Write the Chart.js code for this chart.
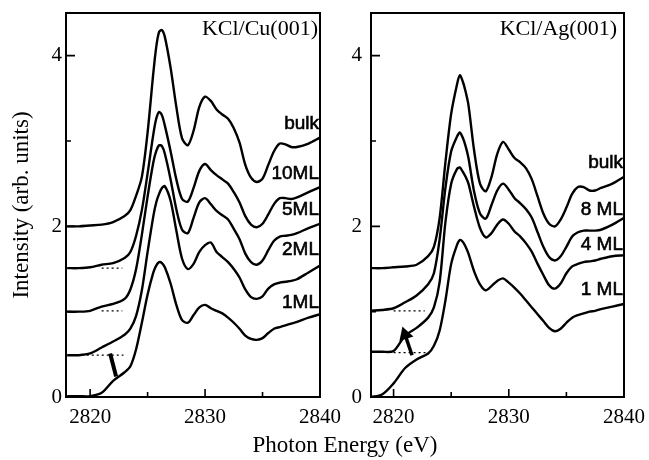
<!DOCTYPE html>
<html>
<head>
<meta charset="utf-8">
<script src="https://cdn.jsdelivr.net/npm/chart.js@4.4.1/dist/chart.umd.min.js"></script>
<style>
  body { margin: 0; background: #fff; }
  #wrap { position: relative; width: 649px; height: 460px; overflow: hidden; }
  canvas { position: absolute; top: 0; }
  #xTitle {
    position: absolute; left: 245px; width: 200px; top: 431px;
    text-align: center; font: 23px 'Liberation Serif', serif; line-height: 28px; color: #000;
  }
</style>
</head>
<body>
<div id="wrap">
  <canvas id="cuChart" width="360" height="460" style="left:0"></canvas>
  <canvas id="agChart" width="319" height="460" style="left:330px"></canvas>
  <div id="xTitle">Photon Energy (eV)</div>
</div>
<script>
// photon energy grid (eV), shared by all spectra
const energy = [2818, 2819, 2820, 2821, 2822, 2823, 2823.5, 2824, 2824.5, 2825,
  2825.5, 2825.75, 2826, 2826.25, 2826.5, 2827, 2827.5, 2828, 2828.5, 2829,
  2829.5, 2830, 2830.5, 2831, 2831.5, 2832, 2832.5, 2833, 2833.5, 2834,
  2834.5, 2835, 2835.5, 2836, 2836.5, 2837, 2837.5, 2838, 2839, 2840];

// KCl/Cu(001) spectra (offset)
const cuBulk = [2.00, 2.00, 2.01, 2.02, 2.05, 2.12, 2.19, 2.36, 2.58, 3.10,
  3.80, 4.10, 4.28, 4.30, 4.22, 3.86, 3.40, 3.03, 2.95, 3.12,
  3.40, 3.52, 3.47, 3.37, 3.31, 3.26, 3.15, 2.98, 2.72, 2.57,
  2.52, 2.56, 2.72, 2.88, 2.97, 2.96, 2.93, 2.93, 2.97, 3.04];
const cu10ML = [1.51, 1.51, 1.52, 1.55, 1.57, 1.63, 1.70, 1.89, 2.19, 2.62,
  3.08, 3.26, 3.34, 3.30, 3.18, 2.88, 2.55, 2.32, 2.29, 2.45,
  2.65, 2.73, 2.66, 2.60, 2.55, 2.50, 2.40, 2.28, 2.12, 2.02,
  1.99, 2.03, 2.14, 2.26, 2.33, 2.33, 2.32, 2.34, 2.40, 2.46];
const cu5ML = [1.00, 1.00, 1.01, 1.06, 1.09, 1.15, 1.26, 1.50, 1.90, 2.35,
  2.75, 2.88, 2.95, 2.94, 2.85, 2.55, 2.20, 1.96, 1.92, 2.10,
  2.28, 2.33, 2.26, 2.18, 2.13, 2.08, 1.97, 1.85, 1.68, 1.58,
  1.55, 1.60, 1.72, 1.83, 1.88, 1.89, 1.90, 1.92, 1.98, 2.03];
const cu2ML = [0.49, 0.49, 0.51, 0.58, 0.65, 0.73, 0.80, 0.95, 1.25, 1.70,
  2.12, 2.28, 2.38, 2.45, 2.47, 2.30, 1.95, 1.62, 1.50, 1.56,
  1.70, 1.78, 1.81, 1.70, 1.64, 1.58, 1.50, 1.40, 1.26, 1.17,
  1.15, 1.18, 1.27, 1.32, 1.34, 1.35, 1.36, 1.38, 1.46, 1.54];
const cu1ML = [0.01, 0.01, 0.01, 0.05, 0.19, 0.29, 0.36, 0.56, 0.87, 1.20,
  1.46, 1.54, 1.58, 1.57, 1.52, 1.33, 1.08, 0.90, 0.87, 0.96,
  1.05, 1.08, 1.04, 1.01, 0.98, 0.93, 0.87, 0.80, 0.72, 0.68,
  0.67, 0.69, 0.75, 0.80, 0.82, 0.84, 0.86, 0.88, 0.93, 0.97];

// KCl/Ag(001) spectra (offset)
const agBulk = [1.51, 1.51, 1.52, 1.53, 1.55, 1.65, 1.76, 2.10, 2.75, 3.32,
  3.66, 3.77, 3.70, 3.58, 3.42, 2.88, 2.50, 2.41, 2.58, 2.85,
  2.99, 2.90, 2.80, 2.75, 2.68, 2.55, 2.35, 2.15, 2.03, 2.00,
  2.08, 2.22, 2.38, 2.46, 2.46, 2.42, 2.42, 2.45, 2.50, 2.58];
const ag8ML = [1.01, 1.02, 1.04, 1.11, 1.19, 1.32, 1.45, 1.85, 2.45, 2.88,
  3.05, 3.10, 3.04, 2.94, 2.80, 2.40, 2.15, 2.09, 2.25, 2.42,
  2.50, 2.43, 2.33, 2.27, 2.20, 2.10, 1.93, 1.76, 1.64, 1.60,
  1.65, 1.76, 1.88, 1.93, 1.95, 1.95, 1.95, 1.96, 2.02, 2.10];
const ag4ML = [0.53, 0.53, 0.54, 0.72, 0.81, 0.93, 1.05, 1.35, 2.05, 2.50,
  2.67, 2.69, 2.64, 2.58, 2.50, 2.22, 1.98, 1.87, 1.92, 2.02,
  2.08, 2.03, 1.94, 1.88, 1.80, 1.70, 1.56, 1.43, 1.31, 1.27,
  1.33, 1.45, 1.53, 1.56, 1.58, 1.59, 1.60, 1.62, 1.65, 1.66];
const ag1ML = [0.00, 0.03, 0.16, 0.34, 0.44, 0.51, 0.60, 0.78, 1.13, 1.56,
  1.78, 1.84, 1.82, 1.76, 1.68, 1.47, 1.32, 1.25, 1.30, 1.36,
  1.39, 1.34, 1.28, 1.21, 1.13, 1.05, 0.97, 0.89, 0.81, 0.77,
  0.80, 0.87, 0.93, 0.96, 0.98, 1.00, 1.01, 1.03, 1.06, 1.09];

// dotted pre-edge baselines and the marker strokes
const cuBaseE = [[2821.0, 2822.8], [2821.0, 2822.8], [2818.4, 2822.9]];
const cuBaseI = [1.51, 1.01, 0.49];
const agBaseE = [[2820.0, 2822.7], [2820.0, 2822.9]];
const agBaseI = [1.01, 0.52];
const cuArrowE = [2821.74, 2822.26];
const cuArrowI = [0.51, 0.24];
const agArrowE = [2821.6, 2821.0];
const agArrowI = [0.49, 0.73];

// ticks and labels
const energyTicks = [2820, 2825, 2830, 2835, 2840];
const intensityTicks = [0, 1, 2, 3, 4];
const cuNames = ['bulk', '10ML', '5ML', '2ML', '1ML'];
const agNames = ['bulk', '8 ML', '4 ML', '1 ML'];

const SERIF = "'Liberation Serif', 'Times New Roman', serif";
const SANS = "'Liberation Sans', Arial, sans-serif";

const pts = (xs, ys) => xs.map((x, i) => ({ x, y: ys[i] }));

function spectrum(ys) {
  return {
    data: pts(energy, ys), borderColor: '#000', borderWidth: 2.4,
    pointRadius: 0, tension: 0.3, fill: false
  };
}
function dotted(xs, yv) {
  return {
    data: pts(xs, [yv, yv]), borderColor: '#000', borderWidth: 1.3,
    borderDash: [2, 3], pointRadius: 0, fill: false
  };
}

const framePlugin = {
  id: 'frame',
  afterDraw(chart, args, opts) {
    const { ctx, chartArea: a, scales: { x, y } } = chart;
    ctx.save();
    ctx.strokeStyle = '#000';
    ctx.lineWidth = 2;
    ctx.strokeRect(a.left, a.top, a.right - a.left, a.bottom - a.top);
    // inward ticks
    ctx.lineWidth = 1.6;
    ctx.beginPath();
    energyTicks.forEach(v => {
      const px = x.getPixelForValue(v);
      const len = v % 10 === 0 ? 8 : 5;
      ctx.moveTo(px, a.bottom);
      ctx.lineTo(px, a.bottom - len);
    });
    intensityTicks.forEach(v => {
      const py = y.getPixelForValue(v);
      const len = v % 2 === 0 ? 9 : 5;
      ctx.moveTo(a.left, py);
      ctx.lineTo(a.left + len, py);
    });
    ctx.stroke();
    // panel title
    ctx.fillStyle = '#000';
    ctx.font = '22px ' + SERIF;
    ctx.textAlign = 'right';
    ctx.textBaseline = 'middle';
    ctx.fillText(opts.title, a.right - opts.titleInset, a.top + 16);
    // series labels (scanned print looks heavy, so give them a thin outline)
    ctx.font = '19px ' + SANS;
    ctx.lineWidth = 0.6;
    opts.names.forEach((n, i) => {
      const py = y.getPixelForValue(opts.nameY[i]);
      ctx.fillText(n, a.right - 1, py);
      ctx.strokeText(n, a.right - 1, py);
    });
    ctx.restore();
  }
};

function buildChart(id, cfg) {
  return new Chart(document.getElementById(id).getContext('2d'), {
    type: 'line',
    data: { datasets: cfg.datasets },
    plugins: [framePlugin],
    options: {
      responsive: false,
      animation: false,
      layout: { padding: { left: 0, top: 13, right: cfg.padRight, bottom: 0 } },
      plugins: {
        legend: { display: false },
        tooltip: { enabled: false },
        frame: cfg.frame
      },
      scales: {
        x: {
          type: 'linear', min: cfg.xMin, max: 2840,
          afterBuildTicks: s => { s.ticks = energyTicks.map(v => ({ value: v })); },
          afterFit: s => { s.height = 63; s.paddingLeft = 0; s.paddingRight = 0; },
          grid: { display: false, drawTicks: false },
          border: { display: false },
          ticks: {
            callback: v => (v % 10 === 0 ? String(v) : ''),
            font: { family: SERIF, size: 21 }, color: '#000',
            padding: 8, maxRotation: 0, autoSkip: false
          }
        },
        y: {
          type: 'linear', min: 0, max: 4.5,
          afterBuildTicks: s => { s.ticks = intensityTicks.map(v => ({ value: v })); },
          afterFit: s => { s.width = cfg.yWidth; s.paddingTop = 0; s.paddingBottom = 0; },
          grid: { display: false, drawTicks: false },
          border: { display: false },
          ticks: {
            callback: v => (v % 2 === 0 ? String(v) : ''),
            font: { family: SERIF, size: 21 }, color: '#000',
            padding: cfg.yPad
          },
          title: {
            display: cfg.yTitle, text: 'Intensity (arb. units)',
            font: { family: SERIF, size: 23 }, color: '#000',
            padding: { top: 8, bottom: 0 }
          }
        }
      }
    }
  });
}

/* ================= KCl/Cu(001) ================= */
buildChart('cuChart', {
  xMin: 2817.9, padRight: 40, yWidth: 66, yPad: 4, yTitle: true,
  frame: {
    title: 'KCl/Cu(001)', titleInset: 2, names: cuNames,
    nameY: [3.20, 2.62, 2.19, 1.72, 1.11]
  },
  datasets: [
    spectrum(cuBulk), spectrum(cu10ML), spectrum(cu5ML), spectrum(cu2ML), spectrum(cu1ML),
    ...cuBaseE.map((xs, i) => dotted(xs, cuBaseI[i])),
    { data: pts(cuArrowE, cuArrowI), borderColor: '#000', borderWidth: 4, pointRadius: 0 }
  ]
});

/* ================= KCl/Ag(001) ================= */
buildChart('agChart', {
  xMin: 2818.04, padRight: 25, yWidth: 41, yPad: 9, yTitle: false,
  frame: {
    title: 'KCl/Ag(001)', titleInset: 7, names: agNames,
    nameY: [2.74, 2.20, 1.78, 1.26]
  },
  datasets: [
    spectrum(agBulk), spectrum(ag8ML), spectrum(ag4ML), spectrum(ag1ML),
    ...agBaseE.map((xs, i) => dotted(xs, agBaseI[i])),
    {
      data: pts(agArrowE, agArrowI), borderColor: '#000', borderWidth: 3.5,
      pointStyle: 'triangle', pointRotation: -18, pointBackgroundColor: '#000',
      pointBorderColor: '#000', pointRadius: c => (c.dataIndex === 1 ? 5 : 0)
    }
  ]
});
</script>
</body>
</html>
